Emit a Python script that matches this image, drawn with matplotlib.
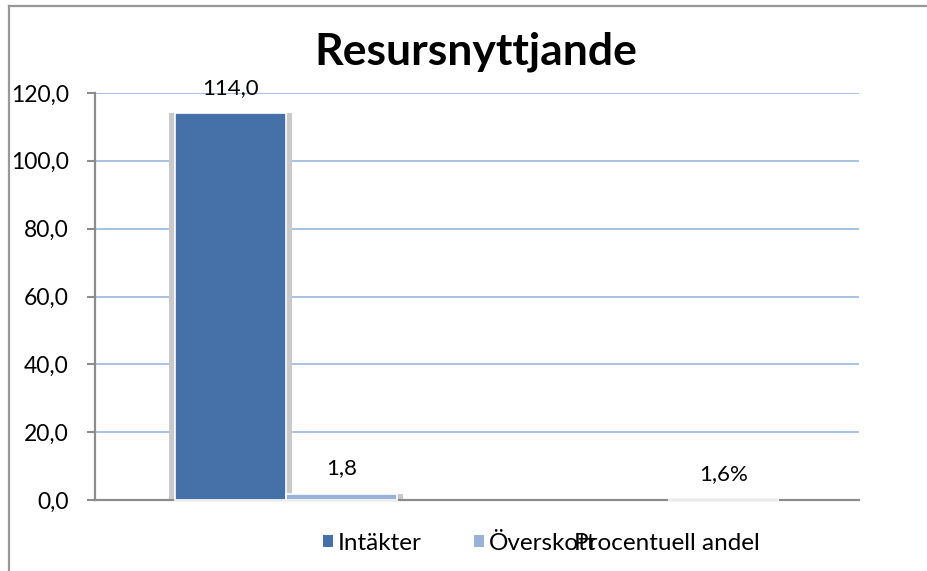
import matplotlib
matplotlib.use("Agg")
import matplotlib.pyplot as plt
from matplotlib.patches import Patch
from matplotlib.lines import Line2D

# ---- data ----
title = "Resursnyttjande"
series_names = ["Intäkter", "Överskott", "Procentuell andel"]
series_values = [114.0, 1.8, 0.016]
value_labels = ["114,0", "1,8", "1,6%"]
series_group = [0, 0, 1]   # category index of each bar
series_slot = [0, 1, 1]    # position within category
y_ticks = [0, 20, 40, 60, 80, 100, 120]
y_tick_labels = ["0,0", "20,0", "40,0", "60,0", "80,0", "100,0", "120,0"]

colors = ["#4671A8", "#98B2D8", "#ECECEC"]
legend_colors = ["#4671A8", "#98B2D8", "none"]

FONT = "Lato"
plt.rcParams["font.family"] = [FONT, "DejaVu Sans"]

W, H = 928, 571
fig = plt.figure(figsize=(W / 100, H / 100), dpi=100)
ax = fig.add_axes([95 / W, 1 - 500 / H, (859 - 95) / W, (500 - 93) / H])

bar_w = 0.29
for i, (name, v) in enumerate(zip(series_names, series_values)):
    x = series_group[i] + 0.5 + (series_slot[i] - 0.5) * bar_w
    # shadow
    ax.bar(x, v, width=bar_w + 0.03, color="#C9C9C9", zorder=2, linewidth=0)
    ax.bar(x, v, width=bar_w, color=colors[i], edgecolor="white",
           linewidth=1.2, zorder=3, clip_on=False)
    ax.annotate(value_labels[i], (x, v), xytext=(0, 14), textcoords="offset points",
                ha="center", va="baseline", fontsize=16, color="black", zorder=5)

ax.set_xlim(0, 2)
ax.set_ylim(0, 120)
ax.set_yticks(y_ticks)
ax.set_yticklabels(y_tick_labels, fontsize=16.5)
ax.set_xticks([])
ax.tick_params(axis="y", direction="out", length=6, width=1.5, color="#8C8C8C", pad=13)
ax.yaxis.grid(True, color="#A4BCE3", linewidth=1.3, zorder=0)
ax.set_axisbelow(True)
for s in ["top", "right"]:
    ax.spines[s].set_visible(False)
for s in ["left", "bottom"]:
    ax.spines[s].set_color("#8C8C8C")
    ax.spines[s].set_linewidth(1.6)
ax.spines["bottom"].set_zorder(2.5)

fig.text(476 / W, 1 - 52 / H, title, ha="center", va="center",
         fontsize=32, fontweight="bold")

# legend entries placed individually (they overlap in the original)
legend_x = [323, 474, 559]
for i, name in enumerate(series_names):
    h = Patch(facecolor=legend_colors[i], edgecolor="none")
    leg = fig.legend([h], [name], loc="center left",
                     bbox_to_anchor=(legend_x[i] / W, 1 - 543 / H),
                     frameon=False, fontsize=17.5, handlelength=0.42,
                     handleheight=0.42, handletextpad=0.18, borderpad=0,
                     borderaxespad=0)

# outer chart border (top and left visible)
fig.add_artist(Line2D([9 / W, 1.0], [1 - 6 / H, 1 - 6 / H], color="#999999", lw=1.6,
                      transform=fig.transFigure))
fig.add_artist(Line2D([9 / W, 9 / W], [0, 1 - 6 / H], color="#999999", lw=1.6,
                      transform=fig.transFigure))

fig.savefig("out.png", dpi=100)
